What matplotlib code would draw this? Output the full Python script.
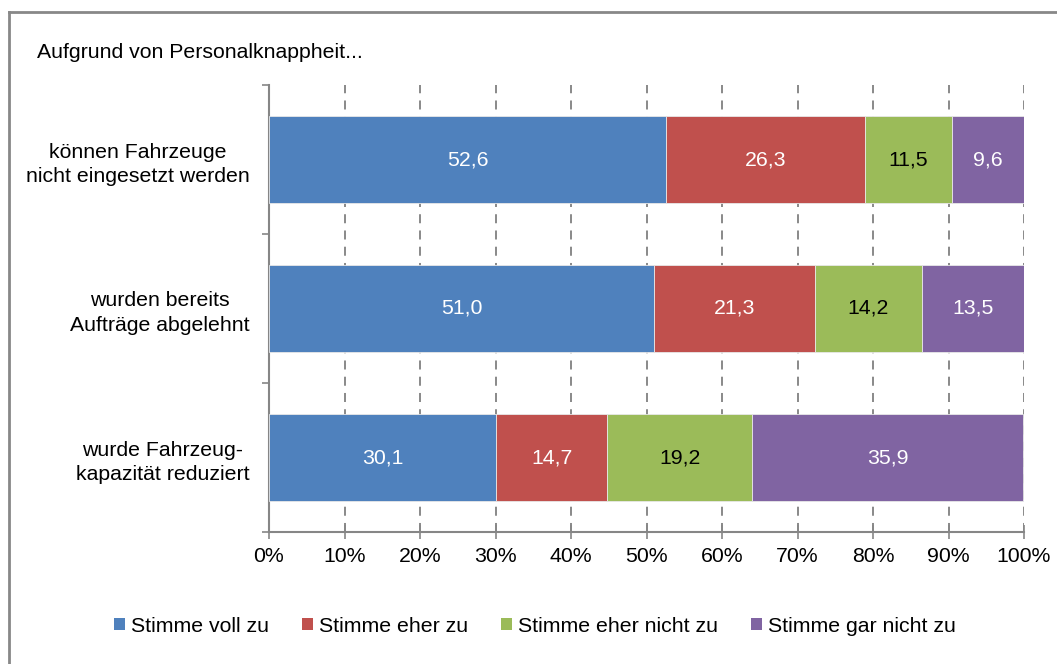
import matplotlib
matplotlib.use("Agg")
import matplotlib.pyplot as plt
from matplotlib.lines import Line2D
from matplotlib.patches import Patch
import numpy as np

plt.rcParams['font.family'] = ['Liberation Sans', 'DejaVu Sans']

title = "Aufgrund von Personalknappheit..."
categories = ["können Fahrzeuge\nnicht eingesetzt werden",
              "wurden bereits\nAufträge abgelehnt",
              "wurde Fahrzeug-\nkapazität reduziert"]
series_names = ["Stimme voll zu", "Stimme eher zu", "Stimme eher nicht zu", "Stimme gar nicht zu"]
voll_zu = [52.6, 51.0, 30.1]
eher_zu = [26.3, 21.3, 14.7]
eher_nicht_zu = [11.5, 14.2, 19.2]
gar_nicht_zu = [9.6, 13.5, 35.9]
x_ticks = [0, 10, 20, 30, 40, 50, 60, 70, 80, 90, 100]
x_tick_labels = [f"{t}%" for t in x_ticks]

colors = ["#4F81BD", "#C0504D", "#9BBB59", "#8064A2"]
label_colors = ["white", "white", "black", "white"]

W, H = 1057, 664
fig = plt.figure(figsize=(W / 100, H / 100), dpi=100)
ax = fig.add_axes([269 / W, 1 - 532 / H, (1024 - 269) / W, (532 - 85) / H])

ypos = np.arange(len(categories))[::-1].astype(float)
series = [voll_zu, eher_zu, eher_nicht_zu, gar_nicht_zu]
left = np.zeros(len(categories))
fs = 15.3
for vals, col, lc in zip(series, colors, label_colors):
    vals = np.array(vals)
    ax.barh(ypos, vals, left=left, height=0.59, color=col, edgecolor="#e8e8e8",
            linewidth=0.6, zorder=3)
    for y, l, v in zip(ypos, left, vals):
        ax.text(l + v / 2, y, f"{v:.1f}".replace(".", ","), ha="center", va="center",
                color=lc, fontsize=fs, zorder=4)
    left += vals

ax.set_xlim(0, 100)
ax.set_ylim(-0.5, len(categories) - 0.5)
ax.set_xticks(x_ticks)
ax.set_xticklabels(x_tick_labels, fontsize=fs)
ax.xaxis.grid(True, color="#808080", linestyle=(0, (5, 4)), linewidth=1.3, zorder=0)

ax.set_yticks(ypos)
ax.set_yticklabels(categories, fontsize=fs, ha="right", multialignment="center",
                   linespacing=1.35)
ax.set_yticks(np.arange(-0.5, len(categories)), minor=True)
ax.tick_params(axis="y", which="major", length=0, pad=14)
ax.tick_params(axis="y", which="minor", length=5, color="#868686", direction="out", width=1.2)
ax.tick_params(axis="x", length=10, direction="inout", color="#868686", width=1.2, pad=6)

for s in ["top", "right"]:
    ax.spines[s].set_visible(False)
for s in ["left", "bottom"]:
    ax.spines[s].set_color("#868686")
    ax.spines[s].set_linewidth(1.5)

# Border of chart area
fig.add_artist(Line2D([9 / W, 9 / W], [0, 1 - 12 / H], transform=fig.transFigure,
                      color="#888888", linewidth=2))
fig.add_artist(Line2D([9 / W, 1], [1 - 12 / H, 1 - 12 / H], transform=fig.transFigure,
                      color="#888888", linewidth=2))

fig.text(37 / W, 1 - 52 / H, title, fontsize=fs, va="center", ha="left")

handles = [Patch(facecolor=c, edgecolor="none") for c in colors]
fig.legend(handles, series_names, loc="center", bbox_to_anchor=(535 / W, 1 - 626 / H),
           ncol=4, frameon=False, fontsize=fs, handlelength=0.5, handleheight=0.5,
           handletextpad=0.3, columnspacing=1.55)

fig.savefig("out.png", dpi=100)
